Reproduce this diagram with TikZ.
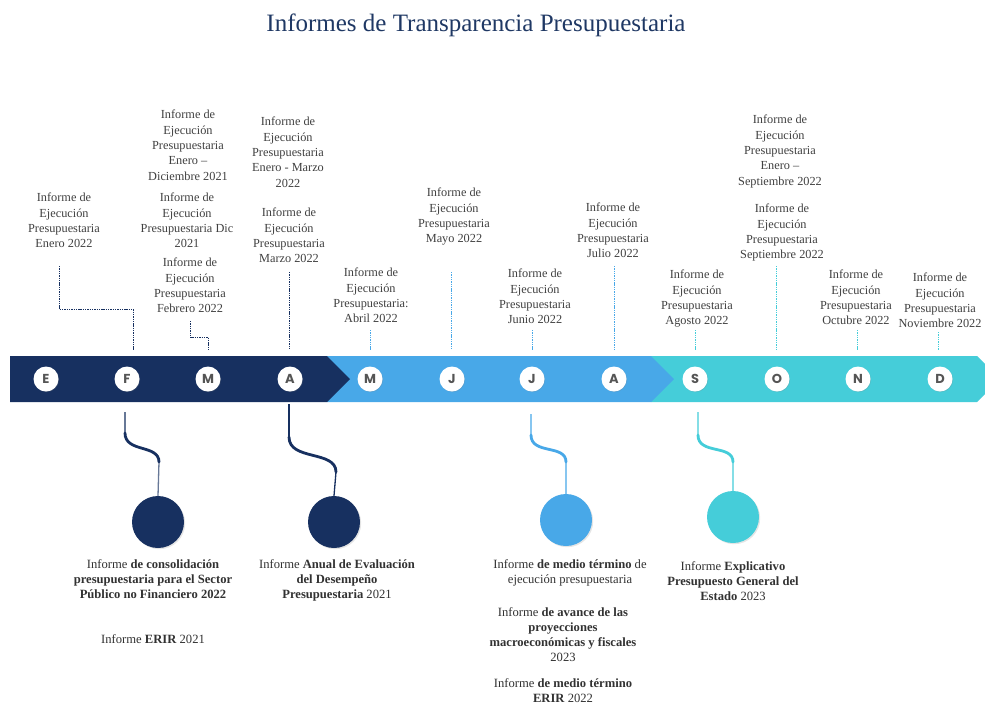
\documentclass[tikz,border=0pt]{standalone}
\usepackage{fontspec}
\setmainfont{Liberation Serif}
\newfontfamily\monthfont{Poppins}
\usetikzlibrary{shadows}
\definecolor{navy}{RGB}{23,48,96}
\definecolor{lblue}{RGB}{72,168,232}
\definecolor{tealc}{RGB}{69,205,217}
\definecolor{titleblue}{RGB}{31,56,100}
\definecolor{txtgray}{RGB}{64,64,64}
\definecolor{btxt}{RGB}{50,50,50}
\definecolor{lettergray}{RGB}{85,85,85}
\begin{document}
\begin{tikzpicture}[x=1pt,y=-1pt,
  toptxt/.style={align=center,inner sep=0,anchor=north,text=txtgray,font=\fontsize{12.3}{15.3}\selectfont},
  bottxt/.style={align=center,inner sep=0,anchor=north,text=btxt,font=\fontsize{12.6}{15.3}\selectfont},
  mcirc/.style={circle,fill=white,minimum size=25,inner sep=0,text=lettergray,font=\monthfont\bfseries\fontsize{13}{13}\selectfont,drop shadow={opacity=0.25,shadow xshift=0.6pt,shadow yshift=-0.6pt}},
  bcirc/.style={circle,minimum size=52,inner sep=0,drop shadow={opacity=0.2,shadow xshift=1.2pt,shadow yshift=-1.2pt}},
  dashln/.style={line width=0.8,dash pattern=on 1.4pt off 0.9pt},
  thinln/.style={line width=1.3,opacity=0.65},
  curveln/.style={line width=2.8,line cap=round}]
\clip (0,0) rectangle (985,705);
\fill[white] (0,0) rectangle (985,705);
% title
\node[text=titleblue,font=\fontsize{25}{25}\selectfont,inner sep=0] (title) at (476,25) {Informes de Transparencia Presupuestaria};
% bar
\fill[tealc] (651,356) -- (977,356) -- (1000,379) -- (977,402) -- (651,402) -- cycle;
\fill[lblue] (327,356) -- (651,356) -- (674,379) -- (651,402) -- (327,402) -- cycle;
\fill[navy] (10,356) -- (327,356) -- (350,379) -- (327,402) -- (10,402) -- cycle;
% month circles
\node[mcirc] (mE) at (46,379) {E};
\node[mcirc] (mF) at (127,379) {F};
\node[mcirc] (mM) at (208,379) {M};
\node[mcirc] (mA) at (290,379) {A};
\node[mcirc] (mMy) at (370,379) {M};
\node[mcirc] (mJn) at (452,379) {J};
\node[mcirc] (mJl) at (532,379) {J};
\node[mcirc] (mAg) at (614,379) {A};
\node[mcirc] (mS) at (695,379) {S};
\node[mcirc] (mO) at (777,379) {O};
\node[mcirc] (mN) at (858,379) {N};
\node[mcirc] (mD) at (940,379) {D};
% top labels
\node[toptxt] (lE) at (64,193) {Informe de\\Ejecución\\Presupuestaria\\Enero 2022};
\node[toptxt] (lED) at (188,110) {Informe de\\Ejecución\\Presupuestaria\\Enero –\\Diciembre 2021};
\node[toptxt] (lDic) at (187,193) {Informe de\\Ejecución\\Presupuestaria Dic\\2021};
\node[toptxt] (lFeb) at (190,258) {Informe de\\Ejecución\\Presupuestaria\\Febrero 2022};
\node[toptxt] (lEM) at (288,117) {Informe de\\Ejecución\\Presupuestaria\\Enero - Marzo\\2022};
\node[toptxt] (lMar) at (289,208) {Informe de\\Ejecución\\Presupuestaria\\Marzo 2022};
\node[toptxt] (lAbr) at (371,268) {Informe de\\Ejecución\\Presupuestaria:\\Abril 2022};
\node[toptxt] (lMay) at (454,188) {Informe de\\Ejecución\\Presupuestaria\\Mayo 2022};
\node[toptxt] (lJun) at (535,269) {Informe de\\Ejecución\\Presupuestaria\\Junio 2022};
\node[toptxt] (lJul) at (613,203) {Informe de\\Ejecución\\Presupuestaria\\Julio 2022};
\node[toptxt] (lES) at (780,115) {Informe de\\Ejecución\\Presupuestaria\\Enero –\\Septiembre 2022};
\node[toptxt] (lSep) at (782,204) {Informe de\\Ejecución\\Presupuestaria\\Septiembre 2022};
\node[toptxt] (lAgo) at (697,270) {Informe de\\Ejecución\\Presupuestaria\\Agosto 2022};
\node[toptxt] (lOct) at (856,270) {Informe de\\Ejecución\\Presupuestaria\\Octubre 2022};
\node[toptxt] (lNov) at (940,273) {Informe de\\Ejecución\\Presupuestaria\\Noviembre 2022};
% top dashed connectors
\coordinate (e1) at (59,266); \coordinate (e2) at (59,309); \coordinate (e3) at (133,309); \coordinate (e4) at (133,350);
\draw[dashln,navy] (e1) -- (e2) -- (e3) -- (e4);
\coordinate (f1) at (190,321); \coordinate (f2) at (190,337); \coordinate (f3) at (208,337); \coordinate (f4) at (208,350);
\draw[dashln,navy] (f1) -- (f2) -- (f3) -- (f4);
\coordinate (a1) at (289,272); \coordinate (a2) at (289,350);
\draw[dashln,navy] (a1) -- (a2);
\coordinate (ab1) at (370,330); \coordinate (ab2) at (370,350);
\draw[dashln,lblue] (ab1) -- (ab2);
\coordinate (my1) at (451,272); \coordinate (my2) at (451,350);
\draw[dashln,lblue] (my1) -- (my2);
\coordinate (jn1) at (532,330); \coordinate (jn2) at (532,350);
\draw[dashln,lblue] (jn1) -- (jn2);
\coordinate (jl1) at (614,266); \coordinate (jl2) at (614,350);
\draw[dashln,lblue] (jl1) -- (jl2);
\coordinate (ag1) at (695,330); \coordinate (ag2) at (695,350);
\draw[dashln,tealc] (ag1) -- (ag2);
\coordinate (sp1) at (776,266); \coordinate (sp2) at (776,350);
\draw[dashln,tealc] (sp1) -- (sp2);
\coordinate (oc1) at (857,330); \coordinate (oc2) at (857,350);
\draw[dashln,tealc] (oc1) -- (oc2);
\coordinate (nv1) at (938,332); \coordinate (nv2) at (938,350);
\draw[dashln,tealc] (nv1) -- (nv2);
% bottom circles
\node[bcirc,fill=navy] (cF) at (158,522) {};
\node[bcirc,fill=navy] (cA) at (334,522) {};
\node[bcirc,fill=lblue] (cJ) at (566,520) {};
\node[bcirc,fill=tealc] (cS) at (733,517) {};
% bottom connectors
\coordinate (bf1) at (125,412); \coordinate (bf2) at (125,433); \coordinate (bf3) at (159,462);
\draw[thinln,navy] (bf1) -- (bf2);
\draw[curveln,navy] (bf2) .. controls +(0,20) and +(0,-18) .. (bf3);
\draw[thinln,navy] (bf3) -- (cF.north);
\coordinate (ba1) at (289,404); \coordinate (ba2) at (289,437); \coordinate (ba3) at (336,472);
\draw[thinln,navy,opacity=1] (ba1) -- (ba2);
\draw[curveln,navy] (ba2) .. controls +(0,24) and +(0,-22) .. (ba3);
\draw[thinln,navy,opacity=1] (ba3) -- (cA.north);
\coordinate (bj1) at (531,414); \coordinate (bj2) at (531,435); \coordinate (bj3) at (566,462);
\draw[thinln,lblue] (bj1) -- (bj2);
\draw[curveln,lblue] (bj2) .. controls +(0,20) and +(0,-18) .. (bj3);
\draw[thinln,lblue] (bj3) -- (cJ.north);
\coordinate (bs1) at (698,412); \coordinate (bs2) at (698,435); \coordinate (bs3) at (733,462);
\draw[thinln,tealc] (bs1) -- (bs2);
\draw[curveln,tealc] (bs2) .. controls +(0,20) and +(0,-18) .. (bs3);
\draw[thinln,tealc] (bs3) -- (cS.north);
% bottom labels
\node[bottxt] (tF1) at (153,559) {Informe \textbf{de consolidación}\\\textbf{presupuestaria para el Sector}\\\textbf{Público no Financiero 2022}};
\node[bottxt] (tF2) at (153,634) {Informe \textbf{ERIR} 2021};
\node[bottxt] (tA) at (337,559) {Informe \textbf{Anual de Evaluación}\\\textbf{del Desempeño}\\\textbf{Presupuestaria} 2021};
\node[bottxt] (tJ1) at (570,559) {Informe \textbf{de medio término} de\\ejecución presupuestaria};
\node[bottxt] (tJ2) at (563,607) {Informe \textbf{de avance de las}\\\textbf{proyecciones}\\\textbf{macroeconómicas y fiscales}\\2023};
\node[bottxt] (tJ3) at (563,678) {Informe \textbf{de medio término}\\\textbf{ERIR} 2022};
\node[bottxt] (tS) at (733,561) {Informe \textbf{Explicativo}\\\textbf{Presupuesto General del}\\\textbf{Estado} 2023};
\end{tikzpicture}
\end{document}
